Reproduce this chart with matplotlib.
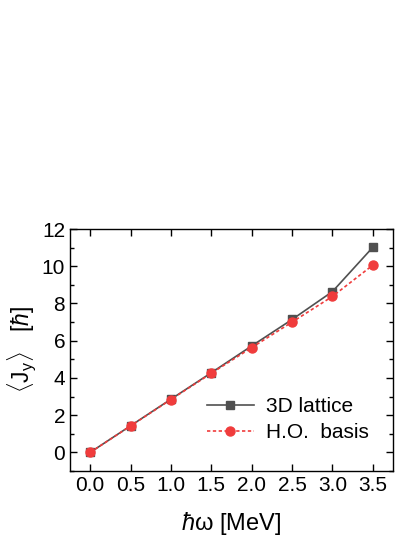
import matplotlib
matplotlib.use("Agg")
import matplotlib.pyplot as plt
from matplotlib.ticker import MultipleLocator

# hbar*omega in MeV
omega = [0.0, 0.5, 1.0, 1.5, 2.0, 2.5, 3.0, 3.5]
# <J_y> in units of hbar
jy_lattice = [0.0, 1.43, 2.86, 4.28, 5.72, 7.14, 8.64, 11.02]
jy_ho = [0.0, 1.42, 2.84, 4.25, 5.63, 7.00, 8.38, 10.06]

plt.rcParams['font.family'] = ['Liberation Sans', 'DejaVu Sans']
plt.rcParams['mathtext.fontset'] = 'custom'
plt.rcParams['mathtext.rm'] = 'Liberation Sans'
plt.rcParams['mathtext.it'] = 'Liberation Sans:italic'

fig = plt.figure(figsize=(4.15, 5.37), dpi=100)
ax = fig.add_axes([0.1687, 0.1229, 0.7783, 0.4506])

ax.plot(omega, jy_lattice, color='#505050', linewidth=1.2, marker='s',
        markersize=6, label='3D lattice')
ax.plot(omega, jy_ho, color='#f03c3c', linewidth=1.2, linestyle=(0, (2, 1.5)),
        marker='o', markersize=6.5, label='H.O.  basis')

ax.set_xlim(-0.25, 3.75)
ax.set_ylim(-1, 12)
ax.set_xticks(omega)
ax.set_yticks(range(0, 13, 2))
ax.yaxis.set_minor_locator(MultipleLocator(1))
ax.tick_params(which='both', direction='in', top=True, right=True,
               labelsize=15, width=1.0)
ax.tick_params(which='major', length=5)
ax.tick_params(which='minor', length=3)
for s in ax.spines.values():
    s.set_linewidth(1.0)

ax.set_xlabel(r'$\hbar$ω [MeV]', fontsize=17, labelpad=11)
ax.set_ylabel(r'$\langle\mathrm{J_y}\rangle\ \ \ [\hbar]$', fontsize=16.5, labelpad=3)

ax.legend(loc='center left', bbox_to_anchor=(0.423, 0.212), frameon=False,
          fontsize=15, handlelength=2.26, handletextpad=0.58, labelspacing=0.36,
          borderpad=0, borderaxespad=0)

fig.savefig('out.png', dpi=100)
